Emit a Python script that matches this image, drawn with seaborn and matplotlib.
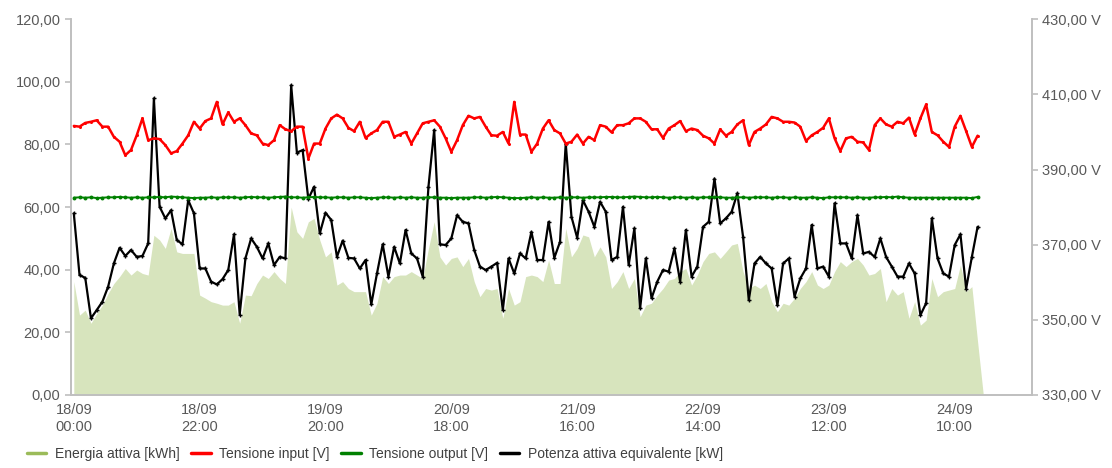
import matplotlib
matplotlib.use("Agg")
import matplotlib.pyplot as plt
from matplotlib.ticker import FuncFormatter
from matplotlib.lines import Line2D
import numpy as np
import pandas as pd
import seaborn as sns

# hourly readings 18/09 00:00 -> 24/09 14:00
potenza = [58, 38.3, 37.4, 24.5, 27.1, 29.8, 34.6, 42, 47, 44.4, 46.3, 44.1, 44.4, 48.4, 94.7, 60.1, 56.4, 59, 49.5, 48.1, 62.2, 58, 40.4, 40.4, 36.2, 35.3, 37, 39.9,
           51.3, 25.7, 43.6, 50, 47.3, 43.6, 48.4, 41.5, 44.1, 43.6, 98.9, 77.4, 78.2, 62.6, 66.5, 51.6, 58.2, 55.9, 44.1, 49.3, 43.8, 43.6, 40.4, 43.1, 28.9, 38.8, 48.1, 37.8,
           47.3, 42, 52.7, 45.2, 43.6, 37.8, 66.5, 84.6, 48.1, 47.9, 50, 57.4, 55.3, 54.8, 46.3, 41, 39.9, 41, 42.2, 27.1, 43.6, 38.8, 45.2, 43.6, 52.1, 43.1, 43.1, 55.3,
           43.8, 48.9, 80.3, 56.9, 50.2, 62.2, 58.5, 53.7, 61.7, 58.5, 43.1, 44.1, 60.1, 41.5, 53.2, 27.7, 43.6, 30.9, 36.2, 39.9, 39.4, 46.8, 36.2, 52.7, 37.8, 41, 53.7, 55.3,
           69.1, 54.8, 56.4, 58.5, 64.4, 50.5, 30.3, 42, 44.1, 42, 40.4, 28.7, 42, 43.6, 31.4, 37.2, 40.4, 54.3, 40.4, 41, 37.8, 61.2, 48.4, 48.4, 43.6, 57.4, 45.2, 45.7,
           44.1, 50, 44.1, 41, 37.8, 37.8, 42, 38.8, 25.5, 29.3, 56.4, 43.6, 38.8, 37.8, 47.9, 51.3, 34, 44.1, 53.7]

energia = [36.2, 25.5, 27.1, 22.9, 26, 28.7, 32.4, 35.6, 37.8, 40.4, 38.3, 39.9, 38.8, 38.3, 51, 49.5, 46.8, 53.2, 45.7, 45.2, 45.2, 45.2, 31.9, 30.9, 29.8, 29.3, 28.7, 28.7,
           29.8, 22.9, 31.9, 31.7, 35.6, 38.3, 37.2, 39.4, 37.2, 35.6, 60, 52.1, 50, 55.3, 56.4, 49.5, 44.1, 45.7, 35.1, 36.2, 34, 33, 33, 33, 25.5, 29.3, 37.8, 35.6,
           37.8, 38.3, 38.3, 39.4, 38.3, 37.2, 46.8, 55.3, 44.1, 41.5, 43.6, 44.1, 41, 43.6, 36.2, 31.4, 34, 33.5, 34, 24.5, 34, 28.7, 29.8, 37.8, 38.3, 37.8, 36.2, 43.1,
           35.6, 35.6, 53.2, 44.1, 46.8, 51.1, 50.5, 44.1, 47.3, 44.1, 34, 36.2, 39.4, 34, 37.2, 25, 28.7, 29.3, 31.9, 34, 36.7, 37.2, 39.4, 40.4, 35.1, 38.3, 42.6, 45.2,
           45.7, 43.6, 45.7, 47.9, 48.4, 39.4, 34, 35.1, 34, 35.6, 29.8, 26.6, 29.3, 28.7, 30.9, 34, 36.2, 39.4, 35.1, 34, 35.1, 39.4, 42.6, 41, 42.6, 43.6, 41.5, 38.3,
           38.8, 40.4, 29.8, 34, 31.9, 33, 24.5, 29.8, 22.3, 23.9, 37.2, 31.4, 33, 33.5, 34, 41.5, 33, 34.6, 17, 0]

tensione_in = [401.6, 401.4, 402.4, 402.7, 403.1, 401.4, 401.4, 398.7, 397.4, 393.8, 395.2, 399.1, 403.6, 397.8, 398.3, 398.1, 396.5, 394.3, 394.9, 396.9, 399.1, 402.7, 400.9, 402.9, 403.6, 408, 402, 405.2,
               402.7, 403.6, 401.8, 399.6, 399.1, 396.9, 396.5, 397.8, 401.8, 400.7, 400.2, 401.4, 401.4, 392.9, 396.9, 396.9, 400.9, 403.6, 404.6, 403.6, 401.1, 400.2, 402.7, 398.4, 399.6, 400.5, 402.7, 402.7,
               398.7, 399.3, 400, 396.9, 399.6, 402.3, 402.7, 403.1, 401.4, 398.3, 394.7, 397.8, 401.8, 404.3, 403.6, 404, 401.4, 399.1, 399, 400, 396.9, 408, 399.3, 399.3, 394.7, 396.9, 400.9, 403.1,
               400.5, 399.6, 396.9, 397.4, 399.3, 396.9, 398.7, 397.8, 401.8, 401.4, 399.9, 401.8, 401.8, 402.3, 403.6, 403.6, 402.7, 400.7, 400.7, 398.4, 400.9, 401.8, 402.9, 400.2, 400.9, 400.5, 399, 398.3,
               396.9, 400.7, 399, 400, 402, 403.1, 396.5, 400, 400.9, 402, 404, 403.6, 402.7, 402.7, 402.5, 401.4, 397.6, 399.1, 400, 401.1, 403.6, 398.3, 394.9, 398.3, 398.7, 397.4, 397.2, 395.2,
               401.8, 403.6, 402, 401.4, 402.7, 402.3, 403.8, 399.3, 403.6, 407.3, 400, 399.1, 397.4, 396, 401.4, 404.3, 400.2, 396, 399]

tensione_out = [382.5, 382.6, 382.5, 382.6, 382.4, 382.5, 382.6, 382.6, 382.7, 382.6, 382.5, 382.6, 382.5, 382.6, 382.6, 382.7, 382.6, 382.8, 382.7, 382.6, 382.5, 382.4, 382.5, 382.5, 382.6, 382.5, 382.6, 382.6,
                382.6, 382.5, 382.6, 382.7, 382.6, 382.6, 382.5, 382.6, 382.7, 382.8, 382.6, 382.6, 382.5, 382.6, 382.7, 382.6, 382.6, 382.5, 382.6, 382.6, 382.5, 382.6, 382.6, 382.5, 382.4, 382.5, 382.6, 382.6,
                382.5, 382.6, 382.5, 382.6, 382.5, 382.5, 382.6, 382.6, 382.5, 382.5, 382.4, 382.5, 382.5, 382.5, 382.6, 382.6, 382.5, 382.6, 382.7, 382.6, 382.5, 382.4, 382.4, 382.5, 382.6, 382.5, 382.6, 382.5,
                382.5, 382.6, 382.5, 382.6, 382.6, 382.5, 382.6, 382.6, 382.6, 382.7, 382.7, 382.6, 382.6, 382.7, 382.8, 382.7, 382.6, 382.6, 382.7, 382.6, 382.5, 382.6, 382.6, 382.5, 382.6, 382.5, 382.6, 382.6,
                382.7, 382.6, 382.5, 382.5, 382.6, 382.6, 382.5, 382.6, 382.6, 382.6, 382.5, 382.6, 382.6, 382.5, 382.6, 382.5, 382.5, 382.6, 382.5, 382.4, 382.6, 382.6, 382.6, 382.6, 382.5, 382.6, 382.5, 382.5,
                382.6, 382.6, 382.7, 382.6, 382.8, 382.6, 382.5, 382.5, 382.5, 382.5, 382.5, 382.5, 382.5, 382.5, 382.5, 382.5, 382.5, 382.4, 382.7]

tick_pos = [0, 22, 44, 66, 88, 110, 132, 154]
tick_labels = ["18/09\n00:00", "18/09\n22:00", "19/09\n20:00", "20/09\n18:00",
               "21/09\n16:00", "22/09\n14:00", "23/09\n12:00", "24/09\n10:00"]

sns.set_style("white")
plt.rcParams['font.family'] = ['Liberation Sans', 'DejaVu Sans']

df = pd.DataFrame({"ora": np.arange(len(potenza)), "potenza": potenza,
                   "vin": tensione_in, "vout": tensione_out})
area_x = np.arange(len(energia))

fig = plt.figure(figsize=(11.12, 4.68), dpi=100)
ax = fig.add_axes([0.0638, 0.156, 0.8642, 0.803])
ax2 = ax.twinx()

ax.fill_between(area_x, energia, 0, color="#d7e4bd", lw=0, zorder=1)
sns.lineplot(data=df, x="ora", y="potenza", ax=ax, color="black", lw=1.6,
             marker="+", markersize=3.2, markeredgewidth=1, markeredgecolor="black", zorder=3)
sns.lineplot(data=df, x="ora", y="vin", ax=ax2, color="#ff0000", lw=1.8,
             marker="o", markersize=2.2, markeredgewidth=0, zorder=3)
sns.lineplot(data=df, x="ora", y="vout", ax=ax2, color="#008000", lw=1.4,
             marker="o", markersize=2.8, markeredgewidth=0, zorder=3)

ax.set_xlim(-0.5, 167.5)
ax.set_ylim(0, 120)
ax2.set_ylim(330, 430)
ax.set_yticks(np.arange(0, 121, 20))
ax2.set_yticks(np.arange(330, 431, 20))
ax.set_xticks(tick_pos)
ax.set_xticklabels(tick_labels)

fmt = lambda v, p: f"{v:.2f}".replace(".", ",")
ax.yaxis.set_major_formatter(FuncFormatter(fmt))
ax2.yaxis.set_major_formatter(FuncFormatter(lambda v, p: fmt(v, p) + " V"))

for a in (ax, ax2):
    a.set_xlabel("")
    a.set_ylabel("")
    for s in a.spines.values():
        s.set_color("#bfbfbf")
        s.set_linewidth(1.2)
    a.spines["top"].set_visible(False)
    a.tick_params(axis="y", colors="#bfbfbf", labelcolor="#595959", labelsize=10.5,
                  length=4, width=1.2, direction="out")
    a.tick_params(axis="x", labelcolor="#595959", labelsize=10.5, length=0, pad=6)

handles = [Line2D([], [], color="#9bbb59", lw=2.5),
           Line2D([], [], color="#ff0000", lw=2.5),
           Line2D([], [], color="#008000", lw=2.5),
           Line2D([], [], color="black", lw=2.5)]
labels = ["Energia attiva [kWh]", "Tensione input [V]", "Tensione output [V]",
          "Potenza attiva equivalente [kW]"]
fig.legend(handles, labels, loc="lower left", bbox_to_anchor=(0.013, -0.012), ncol=4,
           frameon=False, fontsize=10, handlelength=1.4, handletextpad=0.6,
           columnspacing=0.85, labelcolor="#404040")

fig.savefig("out.png", dpi=100)
